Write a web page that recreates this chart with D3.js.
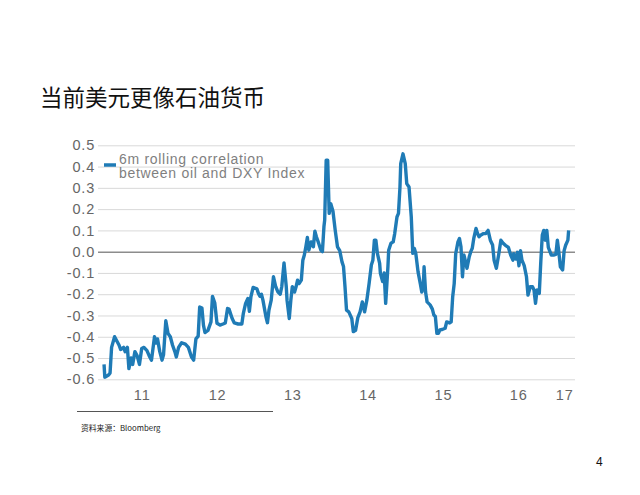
<!DOCTYPE html>
<html>
<head>
<meta charset="utf-8">
<script src="https://cdn.jsdelivr.net/npm/d3@7"></script>
<style>
  html, body { margin: 0; padding: 0; background: #fff; }
  svg { display: block; }
</style>
</head>
<body>
<svg id="chart" width="640" height="495"></svg>
<script>
// ---- Data (decimal year, e.g. 13.5 = mid-2013) ----
const times = [
  10.50,10.51,10.56,10.58,10.60,10.64,10.67,10.70,10.72,10.76,10.78,10.81,10.83,10.86,10.88,10.91,10.94,10.97,
  11.00,11.03,11.07,11.10,11.13,11.17,11.19,11.21,11.24,11.27,11.29,11.32,11.35,11.38,11.41,11.44,11.46,11.49,
  11.53,11.58,11.62,11.66,11.69,11.72,11.75,11.77,11.80,11.82,11.84,11.88,11.92,11.94,11.97,
  12.00,12.04,12.08,12.11,12.14,12.16,12.20,12.23,12.28,12.33,12.35,12.38,12.41,12.43,12.45,12.48,12.53,12.55,
  12.57,12.59,12.61,12.65,12.67,12.69,12.72,12.75,12.78,12.81,12.84,12.86,12.89,12.92,12.93,12.96,12.98,
  13.00,13.03,13.05,13.07,13.09,13.12,13.14,13.16,13.18,13.20,13.22,13.25,13.28,13.30,13.32,13.35,13.38,13.40,
  13.42,13.43,13.45,13.47,13.49,13.51,13.54,13.57,13.60,13.63,13.66,13.68,13.70,13.72,13.75,13.79,13.81,13.84,
  13.87,13.90,13.93,13.96,13.99,
  14.02,14.05,14.07,14.09,14.11,14.13,14.16,14.17,14.20,14.22,14.24,14.27,14.28,14.31,14.34,14.36,14.39,14.41,
  14.43,14.44,14.47,14.50,14.52,14.55,14.58,14.60,14.62,14.64,14.67,14.70,14.72,14.74,14.75,14.77,14.79,14.83,
  14.86,14.88,14.90,14.92,14.94,14.96,14.99,
  15.03,15.05,15.09,15.11,15.13,15.15,15.17,15.20,15.22,15.24,15.26,15.28,15.30,15.32,15.35,15.37,15.39,15.41,
  15.44,15.46,15.48,15.50,15.54,15.57,15.60,15.63,15.66,15.68,15.71,15.74,15.77,15.80,15.83,15.87,15.90,15.93,
  15.94,15.97,15.99,
  16.01,16.03,16.05,16.08,16.11,16.13,16.16,16.19,16.21,16.23,16.25,16.28,16.30,16.32,16.34,16.36,16.38,16.40,
  16.44,16.47,16.50,16.52,16.54,16.56,16.59,16.61,16.63,16.66,16.67
];
const correlation = [
  -0.53,-0.59,-0.58,-0.57,-0.45,-0.40,-0.42,-0.44,-0.46,-0.45,-0.47,-0.45,-0.55,-0.50,-0.53,-0.47,-0.49,-0.53,
  -0.455,-0.45,-0.465,-0.49,-0.51,-0.40,-0.43,-0.41,-0.47,-0.51,-0.485,-0.325,-0.385,-0.40,-0.44,-0.47,-0.495,-0.45,
  -0.428,-0.435,-0.45,-0.494,-0.51,-0.41,-0.397,-0.26,-0.265,-0.345,-0.38,-0.37,-0.33,-0.21,-0.24,
  -0.337,-0.345,-0.34,-0.335,-0.267,-0.27,-0.313,-0.335,-0.34,-0.34,-0.29,-0.243,-0.22,-0.28,-0.213,-0.168,-0.175,-0.196,
  -0.21,-0.20,-0.228,-0.306,-0.334,-0.275,-0.228,-0.118,-0.165,-0.19,-0.20,-0.165,-0.053,-0.165,-0.228,-0.314,-0.23,
  -0.165,-0.19,-0.165,-0.134,-0.15,-0.134,-0.04,-0.016,0.023,0.067,0.007,0.046,0.023,0.096,0.07,0.04,0.007,0.0,
  0.117,0.148,0.43,0.43,0.18,0.226,0.19,0.10,0.023,0.005,-0.048,-0.07,-0.165,-0.275,-0.283,-0.314,-0.376,-0.37,
  -0.31,-0.283,-0.236,-0.283,-0.228,
  -0.15,-0.063,-0.04,0.054,0.054,-0.008,-0.055,-0.102,-0.14,-0.10,-0.243,-0.07,0.007,0.04,0.046,0.085,0.163,0.18,
  0.304,0.414,0.46,0.414,0.32,0.304,0.163,-0.008,0.016,-0.008,-0.095,-0.15,-0.19,-0.165,-0.071,-0.19,-0.236,-0.25,
  -0.27,-0.298,-0.305,-0.384,-0.384,-0.368,-0.366,
  -0.36,-0.33,-0.335,-0.33,-0.212,-0.15,-0.01,0.046,0.062,0.023,-0.118,-0.016,-0.047,-0.078,-0.024,0.0,0.016,0.062,
  0.109,0.085,0.07,0.077,0.085,0.085,0.10,0.054,0.031,-0.04,-0.078,-0.016,0.054,0.04,0.03,0.02,-0.016,-0.04,
  -0.01,-0.035,-0.003,
  -0.066,0.005,-0.04,-0.066,-0.118,-0.204,-0.165,-0.165,-0.18,-0.243,-0.18,-0.196,-0.048,0.078,0.10,0.054,0.10,0.02,
  -0.016,-0.016,-0.013,0.054,-0.003,-0.071,-0.086,0.005,0.03,0.054,0.10
];
const yTicks = [0.5,0.4,0.3,0.2,0.1,0.0,-0.1,-0.2,-0.3,-0.4,-0.5,-0.6];
const xTickValues = [11,12,13,14,15,16,16.61];
const xTickLabels = ["11","12","13","14","15","16","17"];
const seriesName = ["6m rolling correlation", "between oil and DXY Index"];
const title = "当前美元更像石油货币";
const source = "资料来源：Bloomberg";
const pageNo = "4";

// ---- Drawing ----
const svg = d3.select("#chart");
const plot = { left: 98, right: 575, top: 145.3, bottom: 379.3 };
const axisFont = "Arial, 'Liberation Sans', sans-serif";

const x = d3.scaleLinear().domain([11, 16]).range([141.7, 141.7 + 5 * 75.3]);
const y = d3.scaleLinear().domain([-0.6, 0.5]).range([plot.bottom, plot.top]);

// Title
svg.append("text")
  .attr("x", 40).attr("y", 106)
  .attr("font-family", "'Noto Sans CJK SC', sans-serif")
  .attr("font-size", 22.5)
  .attr("fill", "#111")
  .text(title);

// Gridlines + y labels via axis
const yAxis = d3.axisLeft(y).tickValues(yTicks)
  .tickSize(-(plot.right - plot.left))
  .tickPadding(6)
  .tickFormat(d3.format(".1f"));
const gy = svg.append("g").attr("transform", `translate(${plot.left},0)`).call(yAxis);
gy.select(".domain").remove();
gy.selectAll(".tick line")
  .attr("stroke", d => d === 0 ? "#8c8c8c" : "#d9d9d9")
  .attr("stroke-width", d => d === 0 ? 1.5 : 1);
gy.selectAll(".tick text")
  .attr("font-family", axisFont)
  .attr("font-size", 14.5)
  .attr("letter-spacing", 0.8)
  .attr("fill", "#666")
  .attr("x", -3)
  .text(d => d3.format(".1f")(d).replace("−", "-"));

// X axis labels
const xAxis = d3.axisBottom(x).tickValues(xTickValues).tickSize(0).tickPadding(0)
  .tickFormat((d, i) => xTickLabels[i]);
const gx = svg.append("g").attr("transform", `translate(0,${plot.bottom + 10})`).call(xAxis);
gx.select(".domain").remove();
gx.selectAll(".tick text")
  .attr("font-family", axisFont)
  .attr("font-size", 14.5)
  .attr("letter-spacing", 0.8)
  .attr("fill", "#666")
  .attr("dy", "0.71em");

// Line
const data = times.map((t, i) => ({ t, v: correlation[i] }));
svg.append("path")
  .datum(data)
  .attr("fill", "none")
  .attr("stroke", "#1f7bb6")
  .attr("stroke-width", 3.4)
  .attr("stroke-linejoin", "round")
  .attr("d", d3.line().x(d => x(d.t)).y(d => y(d.v)));

// Legend
svg.append("line")
  .attr("x1", 104).attr("x2", 116).attr("y1", 165).attr("y2", 165)
  .attr("stroke", "#1f7bb6").attr("stroke-width", 3.5);
const leg = svg.append("text")
  .attr("font-family", axisFont)
  .attr("font-size", 14)
  .attr("letter-spacing", 0.7)
  .attr("fill", "#7f7f7f");
seriesName.forEach((s, i) => {
  leg.append("tspan").attr("x", 119).attr("y", 163.5 + i * 14.5).text(s);
});

// Source divider and text
svg.append("line")
  .attr("x1", 77).attr("x2", 273).attr("y1", 411.5).attr("y2", 411.5)
  .attr("stroke", "#555").attr("stroke-width", 1);
svg.append("text")
  .attr("x", 81).attr("y", 431)
  .attr("font-family", "'Noto Sans CJK SC', sans-serif")
  .attr("font-size", 7.8)
  .attr("fill", "#222")
  .text(source);

// Page number
svg.append("text")
  .attr("x", 596).attr("y", 466)
  .attr("font-family", axisFont)
  .attr("font-size", 12)
  .attr("fill", "#111")
  .text(pageNo);
</script>
</body>
</html>
